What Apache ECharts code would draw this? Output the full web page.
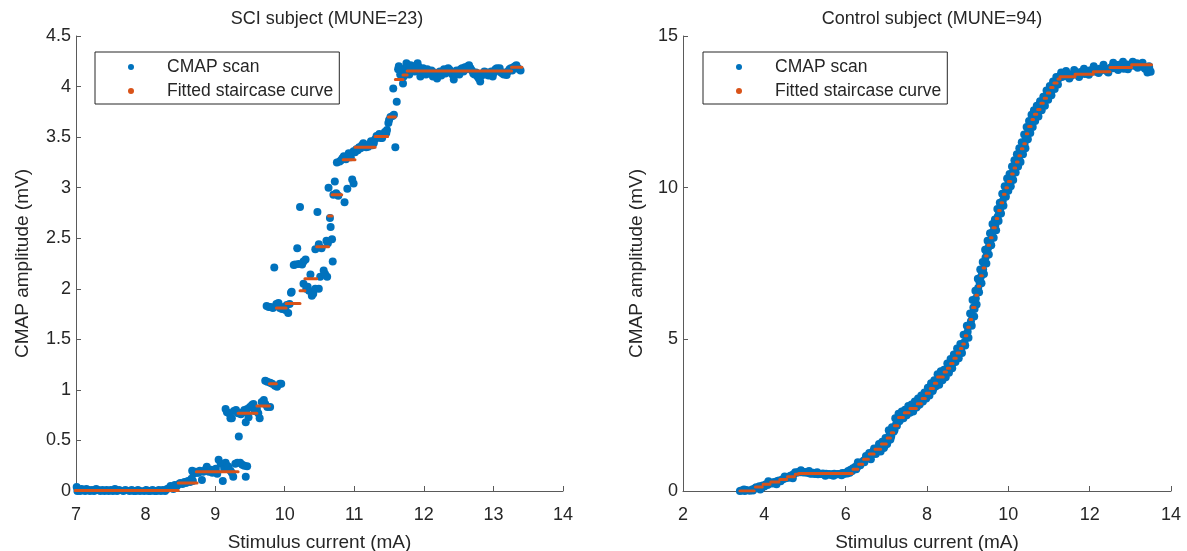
<!DOCTYPE html>
<html><head><meta charset="utf-8">
<script src="https://cdn.jsdelivr.net/npm/echarts/dist/echarts.min.js"></script>
<style>html,body{margin:0;padding:0;background:#fff}#c{width:1187px;height:551px}</style>
</head><body><div id="c"></div>
<script>
// ---------- SCI subject (MUNE=23) ----------
const sciTitle = 'SCI subject (MUNE=23)';
const sciScan = [
[6.99,0.01],[7.01,0.04],[7.02,0.0],[7.04,0.01],[7.06,0.0],[7.08,0.02],[7.10,0.01],[7.13,0.0],[7.15,0.02],[7.18,0.01],[7.20,0.0],[7.23,0.01],[7.26,0.0],[7.29,0.02],[7.32,0.01],[7.35,0.0],[7.38,0.01],[7.41,0.0],[7.44,0.01],[7.47,0.0],[7.50,0.01],[7.53,0.0],[7.56,0.02],[7.59,0.0],[7.62,0.01],[7.65,-0.01],[7.68,0.0],[7.71,0.01],[7.74,-0.01],[7.77,0.0],[7.80,0.01],[7.83,0.0],[7.86,0.0],[7.89,0.01],[7.92,0.0],[7.95,-0.01],[7.98,0.0],[8.01,0.01],[8.04,0.0],[8.07,0.0],[8.10,0.01],[8.13,0.0],[8.16,0.0],[8.19,0.01],[8.22,0.0],[8.25,0.01],[8.28,0.0],[8.31,0.02],[8.34,0.03],[8.36,0.05],[8.38,0.03],[8.40,0.02],
[8.42,0.06],[8.45,0.05],[8.48,0.07],[8.50,0.08],[8.53,0.07],[8.56,0.09],[8.58,0.08],[8.61,0.10],[8.64,0.09],[8.66,0.12],[8.68,0.10],
[8.67,0.20],[8.69,0.17],[8.72,0.19],[8.74,0.18],[8.76,0.18],[8.78,0.20],[8.81,0.11],[8.83,0.19],[8.86,0.21],[8.88,0.24],[8.91,0.19],[8.94,0.21],[8.96,0.18],[8.98,0.20],[9.01,0.22],[9.03,0.17],[9.05,0.31],[9.08,0.27],[9.11,0.10],[9.13,0.22],[9.15,0.28],[9.17,0.25],[9.19,0.24],[9.22,0.20],[9.24,0.18],[9.26,0.14],[9.29,0.27],[9.32,0.28],[9.34,0.54],[9.36,0.28],[9.39,0.26],[9.42,0.25],[9.44,0.14],[9.46,0.245],
[9.15,0.81],[9.17,0.78],[9.20,0.77],[9.22,0.72],[9.24,0.72],[9.27,0.79],[9.30,0.80],[9.33,0.77],[9.37,0.76],[9.40,0.78],[9.42,0.80],[9.44,0.68],[9.46,0.81],[9.48,0.73],[9.50,0.83],[9.53,0.85],[9.55,0.86],[9.57,0.79],[9.60,0.81],[9.62,0.77],[9.64,0.72],[9.67,0.88],[9.70,0.90],[9.72,0.86],[9.75,0.83],[9.79,0.83],
[9.72,1.09],[9.75,1.08],[9.79,1.07],[9.82,1.06],[9.86,1.04],[9.89,1.03],[9.93,1.06],[9.95,1.06],
[9.74,1.83],[9.77,1.82],[9.80,1.82],[9.83,1.81],[9.85,2.21],[9.88,1.85],[9.91,1.86],[9.93,1.81],[9.96,1.80],[9.98,1.82],[10.01,1.79],[10.03,1.84],[10.05,1.76],[10.07,1.85],[10.09,1.96],
[10.10,1.97],[10.13,2.235],[10.15,2.24],[10.18,2.40],[10.20,2.245],[10.22,2.81],[10.25,2.24],[10.27,2.27],[10.27,2.05],[10.30,2.29],[10.31,2.00],[10.33,2.02],[10.35,1.98],[10.37,2.14],[10.39,1.93],[10.41,1.95],[10.44,2.00],[10.44,2.39],[10.47,2.76],[10.49,2.00],[10.49,2.44],[10.51,2.12],[10.53,2.40],[10.56,2.18],[10.58,2.145],[10.60,2.475],[10.61,2.12],[10.62,2.45],[10.63,3.00],[10.65,2.70],[10.66,2.61],[10.68,2.49],[10.69,2.27],[10.70,2.93],[10.72,3.06],[10.74,2.945],[10.75,3.25],[10.77,2.92],[10.79,3.26],[10.81,3.27],[10.83,3.29],[10.85,3.31],[10.86,2.855],[10.88,3.28],[10.90,2.99],[10.92,3.34],[10.95,3.30],[10.97,3.08],[10.99,3.04],[10.99,3.36],
[11.01,3.35],[11.03,3.38],[11.05,3.37],[11.07,3.40],[11.09,3.39],[11.11,3.42],[11.13,3.44],[11.15,3.41],[11.17,3.40],[11.20,3.405],[11.22,3.43],[11.24,3.46],[11.26,3.42],[11.28,3.44],[11.30,3.48],[11.32,3.51],[11.34,3.50],[11.36,3.53],[11.38,3.49],[11.40,3.49],[11.42,3.52],[11.44,3.55],[11.46,3.54],[11.47,3.57],[11.49,3.64],[11.50,3.67],[11.52,3.70],[11.55,3.71],[11.57,3.72],[11.59,3.40],[11.61,3.85],[11.56,3.98],
[11.63,4.17],[11.64,4.20],[11.66,4.12],[11.68,4.15],[11.70,4.03],[11.71,4.10],[11.73,4.18],[11.75,4.23],[11.77,4.14],[11.79,4.12],[11.81,4.21],[11.83,4.17],[11.85,4.20],[11.87,4.15],[11.89,4.18],[11.91,4.23],[11.93,4.19],[11.95,4.10],[11.97,4.16],[11.99,4.18],[12.01,4.14],[12.03,4.12],[12.05,4.17],[12.07,4.15],[12.09,4.13],[12.11,4.16],[12.13,4.10],[12.15,4.14],[12.17,4.12],[12.19,4.08],[12.21,4.13],[12.23,4.15],[12.25,4.11],[12.27,4.14],[12.29,4.17],[12.31,4.13],[12.33,4.15],[12.35,4.18],[12.37,4.165],[12.39,4.14],[12.41,4.12],[12.43,4.07],[12.45,4.13],[12.47,4.16],[12.49,4.15],[12.51,4.12],[12.53,4.17],[12.55,4.18],[12.57,4.15],[12.59,4.19],[12.61,4.17],[12.63,4.20],[12.65,4.21],[12.67,4.18],[12.69,4.16],[12.71,4.13],[12.73,4.12],[12.75,4.14],[12.77,4.10],[12.79,4.08],[12.81,4.05],[12.83,4.11],[12.85,4.13],[12.87,4.15],[12.89,4.12],[12.91,4.14],[12.93,4.11],[12.95,4.13],[12.97,4.15],[12.99,4.10],[13.01,4.14],[13.03,4.17],[13.05,4.18],[13.07,4.16],[13.09,4.18],[13.11,4.14],[13.13,4.13],[13.15,4.12],[13.17,4.14],[13.19,4.115],[13.21,4.15],[13.23,4.17],[13.25,4.18],[13.27,4.16],[13.29,4.19],[13.31,4.20],[13.33,4.21],[13.35,4.18],[13.37,4.17],[13.39,4.16]
];
// fitted staircase: [start current, end current, level]
const sciFitSteps = [
[6.99,8.47,0.005],[8.47,8.74,0.08],[8.73,9.33,0.19],[9.33,9.60,0.77],[9.60,9.78,0.84],[9.78,9.88,1.06],[9.88,10.02,1.81],[10.02,10.22,1.855],[10.22,10.29,1.98],[10.29,10.46,2.10],[10.46,10.63,2.415],[10.63,10.68,2.72],[10.68,10.82,2.93],[10.83,10.835,3.04],[10.84,11.01,3.275],[11.01,11.30,3.40],[11.30,11.48,3.505],[11.49,11.59,3.70],[11.59,11.70,4.07],[11.70,11.76,4.115],[11.76,13.26,4.155],[13.26,13.41,4.19]
];

// ---------- Control subject (MUNE=94) ----------
const ctlTitle = 'Control subject (MUNE=94)';
const ctlScan = [
[3.40,0.0],[3.44,0.02],[3.48,-0.02],[3.52,0.0],[3.56,0.03],[3.60,-0.01],[3.64,0.01],[3.68,-0.02],[3.72,0.02],[3.76,0.08],[3.80,0.12],[3.84,0.10],[3.88,0.16],[3.92,0.14],[3.96,0.18],[4.00,0.15],[4.04,0.22],[4.08,0.20],[4.12,0.24],[4.16,0.27],[4.20,0.25],[4.24,0.30],[4.28,0.28],[4.32,0.33],[4.36,0.35],[4.40,0.32],[4.44,0.38],[4.48,0.40],[4.52,0.42],[4.56,0.45],[4.60,0.44],[4.64,0.50],[4.68,0.52],[4.72,0.55],[4.76,0.62],[4.80,0.60],[4.84,0.63],[4.88,0.62],[4.92,0.64],[4.96,0.61],[5.00,0.63],[5.04,0.60],[5.08,0.62],[5.12,0.58],[5.16,0.57],[5.20,0.60],[5.24,0.56],[5.28,0.58],[5.32,0.55],[5.36,0.57],[5.40,0.56],[5.44,0.58],[5.48,0.55],[5.52,0.57],[5.56,0.54],[5.60,0.56],[5.64,0.53],[5.68,0.55],[5.72,0.57],[5.76,0.54],[5.80,0.56],[5.84,0.55],[5.88,0.57],[5.92,0.59],[5.96,0.56],[6.00,0.60],[6.04,0.58],[6.08,0.62],
[6.12,0.70],[6.16,0.66],[6.20,0.74],[6.24,0.80],[6.28,0.78],[6.32,0.90],[6.36,0.85],[6.40,0.95],[6.44,1.00],[6.48,1.05],[6.52,1.10],[6.56,1.15],[6.60,1.12],[6.64,1.20],[6.68,1.32],[6.72,1.28],[6.76,1.40],[6.80,1.35],[6.84,1.45],[6.88,1.50],[6.92,1.55],[6.96,1.48],[7.00,1.70],[7.04,1.65],[7.08,1.85],[7.12,1.80],[7.16,2.05],[7.20,2.00],[7.24,2.20],[7.28,2.35],[7.32,2.30],[7.36,2.45],[7.40,2.50],[7.44,2.55],[7.48,2.52],[7.52,2.62],[7.56,2.68],[7.60,2.72],[7.64,2.70],[7.68,2.78],[7.72,2.85],[7.76,2.80],[7.80,2.90],[7.84,2.95],[7.88,3.00],[7.92,3.10],[7.96,3.15],[8.00,3.12],[8.04,3.25],[8.08,3.30],[8.12,3.40],[8.16,3.38],[8.20,3.50],[8.24,3.60],[8.28,3.55],[8.32,3.70],[8.36,3.78],[8.40,3.85],[8.44,3.80],[8.48,3.95],[8.52,4.00],[8.56,4.10],[8.60,4.15],[8.64,4.22],[8.68,4.30],[8.72,4.40],[8.76,4.50],[8.80,4.55],[8.84,4.65],[8.88,4.80],[8.92,4.90],[8.96,5.10],[9.00,5.25],[9.04,5.45],[9.08,5.60],[9.10,5.80],[9.14,6.05],[9.17,6.00],[9.20,6.35],[9.23,6.55],[9.26,6.70],[9.29,6.90],[9.32,7.05],[9.35,7.20],[9.38,7.30],[9.41,7.50],[9.44,7.70],[9.47,7.85],[9.50,8.00],[9.53,8.15],[9.56,8.25],[9.59,8.45],[9.62,8.55],[9.65,8.70],[9.68,8.75],[9.71,8.90],[9.74,9.05],[9.77,9.20],[9.80,9.30],[9.83,9.40],[9.86,9.55],[9.89,9.70],[9.92,9.80],[9.95,9.95],[9.98,10.05],[10.01,10.15],[10.04,10.20],[10.07,10.35],[10.10,10.45],[10.13,10.55],[10.16,10.65],[10.19,10.75],[10.22,10.85],[10.25,10.95],[10.28,11.05],[10.31,11.15],[10.34,11.25],[10.37,11.35],[10.40,11.45],[10.43,11.60],[10.46,11.75],[10.49,11.90],[10.52,12.00],[10.55,12.05],[10.58,12.20],[10.61,12.25],[10.64,12.35],[10.67,12.40],[10.70,12.50],[10.73,12.55],[10.76,12.60],[10.80,12.70],[10.84,12.75],[10.88,12.85],[10.92,12.95],[10.96,13.05],[11.00,13.15],[11.04,13.20],[11.08,13.30],[11.12,13.35],[11.16,13.45],[11.20,13.55],[11.24,13.60],[11.28,13.70],
[11.32,13.65],[11.36,13.72],[11.40,13.68],[11.44,13.75],[11.48,13.70],[11.52,13.66],[11.56,13.74],[11.60,13.72],[11.64,13.78],[11.68,13.76],[11.72,13.80],[11.76,13.74],[11.80,13.82],[11.84,13.78],[11.88,13.75],[11.92,13.83],[11.96,13.80],[12.00,13.86],[12.04,13.82],[12.08,13.90],[12.12,13.85],[12.16,13.82],[12.20,13.88],[12.24,13.92],[12.28,13.86],[12.32,13.90],[12.36,13.95],[12.40,13.88],[12.44,13.82],[12.48,13.92],[12.52,13.96],[12.56,14.00],[12.60,13.94],[12.64,14.02],[12.68,13.98],[12.72,14.05],[12.76,13.96],[12.80,14.00],[12.84,13.92],[12.88,14.02],[12.92,14.06],[12.96,14.00],[13.00,14.04],[13.04,14.08],[13.08,14.02],[13.12,14.05],[13.16,14.10],[13.20,14.06],[13.24,14.02],[13.28,14.04],[13.32,13.98],[13.36,13.92],[13.40,13.95],[13.44,13.85],[13.47,13.90],[13.50,13.82],
[3.50,0.05],[3.70,0.05],[3.90,0.05],[4.10,0.32],[4.30,0.22],[4.50,0.48],[4.70,0.42],[4.90,0.68],[5.10,0.66],[5.30,0.62],[5.50,0.50],[5.70,0.50],[5.90,0.52],[6.06,0.66],
[6.10,0.60],[6.18,0.75],[6.26,0.72],[6.30,0.95],[6.38,0.92],[6.46,0.95],[6.50,1.15],[6.58,1.25],[6.62,1.05],[6.70,1.40],[6.74,1.22],[6.82,1.55],[6.86,1.30],[6.90,1.62],[6.94,1.42],[6.98,1.75],[7.02,1.55],[7.06,2.00],[7.10,1.70],[7.14,2.10],[7.18,1.95],[7.22,2.40],[7.26,2.15],[7.30,2.55],[7.34,2.35],[7.38,2.62],[7.42,2.40],[7.46,2.68],[7.50,2.50],[7.54,2.80],[7.58,2.58],[7.62,2.85],[7.66,2.62],[7.70,2.95],[7.74,2.75],[7.78,3.05],[7.82,2.85],[7.86,3.15],[7.90,2.95],[7.94,3.25],[7.98,3.05],[8.02,3.40],[8.06,3.15],[8.10,3.55],[8.14,3.30],[8.18,3.65],[8.22,3.45],[8.26,3.85],[8.30,3.50],[8.34,3.95],[8.38,3.65],[8.42,4.00],[8.46,3.75],[8.50,4.20],[8.54,3.90],[8.58,4.35],[8.62,4.05],[8.66,4.50],[8.70,4.25],[8.74,4.70],[8.78,4.38],[8.82,4.85],[8.86,4.55],[8.90,5.15],[8.94,4.80],[8.98,5.45],[9.02,5.05],[9.06,5.85],[9.10,5.45],[9.12,6.30],[9.16,5.75],[9.19,6.60],[9.22,6.15],[9.25,7.00],[9.28,6.55],[9.31,7.30],[9.34,6.85],[9.37,7.55],[9.40,7.15],[9.43,7.95],[9.46,7.50],[9.49,8.25],[9.52,7.80],[9.55,8.50],[9.58,8.10],[9.61,8.80],[9.64,8.35],[9.67,8.95],[9.70,8.60],[9.73,9.30],[9.76,8.90],[9.79,9.50],[9.82,9.15],[9.85,9.80],[9.88,9.40],[9.91,10.05],[9.94,9.70],[9.97,10.30],[10.00,9.90],[10.03,10.45],[10.06,10.05],[10.09,10.70],[10.12,10.25],[10.15,10.90],[10.18,10.50],[10.21,11.10],[10.24,10.70],[10.27,11.30],[10.30,10.85],[10.33,11.50],[10.36,11.10],[10.39,11.75],[10.42,11.30],[10.45,12.00],[10.48,11.60],[10.51,12.20],[10.54,11.80],[10.57,12.40],[10.60,12.00],[10.63,12.55],[10.66,12.20],[10.70,12.70],[10.74,12.35],[10.78,12.85],[10.82,12.55],[10.86,13.00],[10.90,12.70],[10.94,13.20],[10.98,12.90],[11.02,13.35],[11.06,13.05],[11.10,13.50],[11.14,13.25],[11.18,13.65],[11.22,13.40],
[11.30,13.80],[11.42,13.85],[11.50,13.60],[11.62,13.88],[11.74,13.65],[11.86,13.92],[11.98,13.72],[12.10,14.00],[12.22,13.78],[12.34,14.05],[12.46,13.80],[12.58,14.12],[12.70,13.88],[12.82,14.15],[12.94,13.90],[13.06,14.15],[13.18,13.95],[13.30,14.12],[13.42,13.80],[13.46,14.00]
];
const ctlFitSteps = [
[3.40,3.75,0.0],[3.78,3.95,0.13],[3.97,4.14,0.22],[4.16,4.36,0.30],[4.38,4.55,0.38],[4.57,4.74,0.47],[4.76,4.84,0.55],[4.84,6.16,0.58],[6.18,6.30,0.72],[6.32,6.42,0.88],[6.44,6.56,1.05],[6.58,6.70,1.22],[6.72,6.86,1.38],[6.88,7.00,1.55],[7.02,7.10,1.75],[7.12,7.18,1.92],[7.20,7.28,2.15],[7.30,7.42,2.42],[7.44,7.56,2.58],[7.58,7.74,2.72],[7.76,7.86,2.88],[7.88,7.96,3.05],[7.98,8.06,3.22],[8.08,8.16,3.38],[8.18,8.24,3.55],[8.26,8.40,3.76],[8.42,8.48,3.92],[8.50,8.56,4.05],[8.58,8.64,4.20],[8.66,8.72,4.38],[8.74,8.80,4.55],[8.82,8.86,4.70],[8.88,8.92,4.85],[8.94,8.98,5.12],[9.00,9.04,5.40],[9.06,9.10,5.65],[9.12,9.18,6.05],[9.20,9.24,6.45],[9.26,9.30,6.75],[9.32,9.36,7.10],[9.38,9.42,7.35],[9.44,9.48,7.75],[9.50,9.54,8.10],[9.56,9.60,8.35],[9.62,9.68,8.68],[9.70,9.74,8.98],[9.76,9.80,9.25],[9.82,9.86,9.50],[9.88,9.92,9.78],[9.94,9.98,10.00],[10.00,10.06,10.20],[10.08,10.12,10.45],[10.14,10.18,10.65],[10.20,10.24,10.85],[10.26,10.30,11.05],[10.32,10.36,11.28],[10.38,10.42,11.45],[10.44,10.48,11.78],[10.50,10.56,12.02],[10.58,10.62,12.25],[10.64,10.70,12.42],[10.72,10.78,12.58],[10.80,10.86,12.78],[10.88,10.94,12.95],[10.96,11.02,13.12],[11.04,11.10,13.30],[11.12,11.20,13.45],[11.22,11.27,13.58],[11.27,11.64,13.66],[11.64,12.09,13.74],[12.09,12.50,13.82],[12.50,13.03,13.96],[13.03,13.52,14.05]
];

const xName = 'Stimulus current (mA)';
const yName = 'CMAP amplitude (mV)';
const scanName = 'CMAP scan';
const fitName = 'Fitted staircase curve';

const BLUE = '#0072BD', ORANGE = '#D95319', INK = '#262626', AXIS = '#5a5a5a';
const FONT = 'Liberation Sans, Arial, sans-serif';

function stepsToLine(steps) {
  const out = [];
  steps.forEach(s => { out.push([s[0], s[2]], [s[1], s[2]], [s[1], '-']); });
  return out;
}

function xAxis(i, min, max, interval) {
  return {
    gridIndex: i, type: 'value', min, max, interval,
    axisLine: { show: true, onZero: false, lineStyle: { color: AXIS, width: 1 } },
    axisTick: { show: true, inside: true, length: 5, lineStyle: { color: AXIS } },
    axisLabel: { color: INK, fontSize: 18, fontFamily: FONT, margin: 15 },
    splitLine: { show: false },
    name: xName, nameLocation: 'middle', nameGap: 42,
    nameTextStyle: { color: INK, fontSize: 19, fontFamily: FONT }
  };
}
function yAxis(i, min, max, interval, gap) {
  return {
    gridIndex: i, type: 'value', min, max, interval,
    axisLine: { show: true, onZero: false, lineStyle: { color: AXIS, width: 1 } },
    axisTick: { show: true, inside: true, length: 5, lineStyle: { color: AXIS } },
    axisLabel: { color: INK, fontSize: 18, fontFamily: FONT, margin: 5 },
    splitLine: { show: false },
    name: yName, nameLocation: 'middle', nameGap: gap,
    nameTextStyle: { color: INK, fontSize: 19, fontFamily: FONT }
  };
}
function legend(left) {
  return {
    left, top: 52, orient: 'vertical', selectedMode: false,
    padding: [5, 6, 3, 33], itemGap: 4, itemWidth: 6, itemHeight: 6,
    borderColor: INK, borderWidth: 1, borderRadius: 0, backgroundColor: '#fff',
    textStyle: { color: INK, fontSize: 17.5, fontFamily: FONT, lineHeight: 20, padding: [0, 0, 0, 28] },
    data: [{ name: scanName, icon: 'circle' }, { name: fitName, icon: 'circle' }]
  };
}
function scan(i, data) {
  return { type: 'scatter', name: scanName, xAxisIndex: i, yAxisIndex: i, data,
    symbolSize: 8, itemStyle: { color: BLUE, opacity: 1 }, emphasis: { disabled: true }, silent: true };
}
function fit(i, steps) {
  return { type: 'line', name: fitName, xAxisIndex: i, yAxisIndex: i, data: stepsToLine(steps),
    symbol: 'none', showSymbol: false, connectNulls: false,
    lineStyle: { color: ORANGE, width: 3, cap: 'round' }, itemStyle: { color: ORANGE },
    emphasis: { disabled: true }, silent: true };
}

const chart = echarts.init(document.getElementById('c'), null, { renderer: 'canvas' });
chart.setOption({
  animation: false,
  backgroundColor: '#fff',
  title: [
    { text: sciTitle, left: 322, top: 5, textAlign: 'center', textStyle: { color: INK, fontSize: 18, fontWeight: 'normal', fontFamily: FONT } },
    { text: ctlTitle, left: 927, top: 5, textAlign: 'center', textStyle: { color: INK, fontSize: 18, fontWeight: 'normal', fontFamily: FONT } }
  ],
  legend: [legend(95), legend(703)],
  grid: [
    { left: 76, right: 624, top: 36, bottom: 60, containLabel: false, outerBoundsMode: 'none' },
    { left: 683, right: 16, top: 36, bottom: 60, containLabel: false, outerBoundsMode: 'none' }
  ],
  xAxis: [xAxis(0, 7, 14, 1), xAxis(1, 2, 14, 2)],
  yAxis: [yAxis(0, 0, 4.5, 0.5, 44), yAxis(1, 0, 15, 5, 37)],
  series: [scan(0, sciScan), fit(0, sciFitSteps), scan(1, ctlScan), fit(1, ctlFitSteps)]
});
</script>
</body></html>
